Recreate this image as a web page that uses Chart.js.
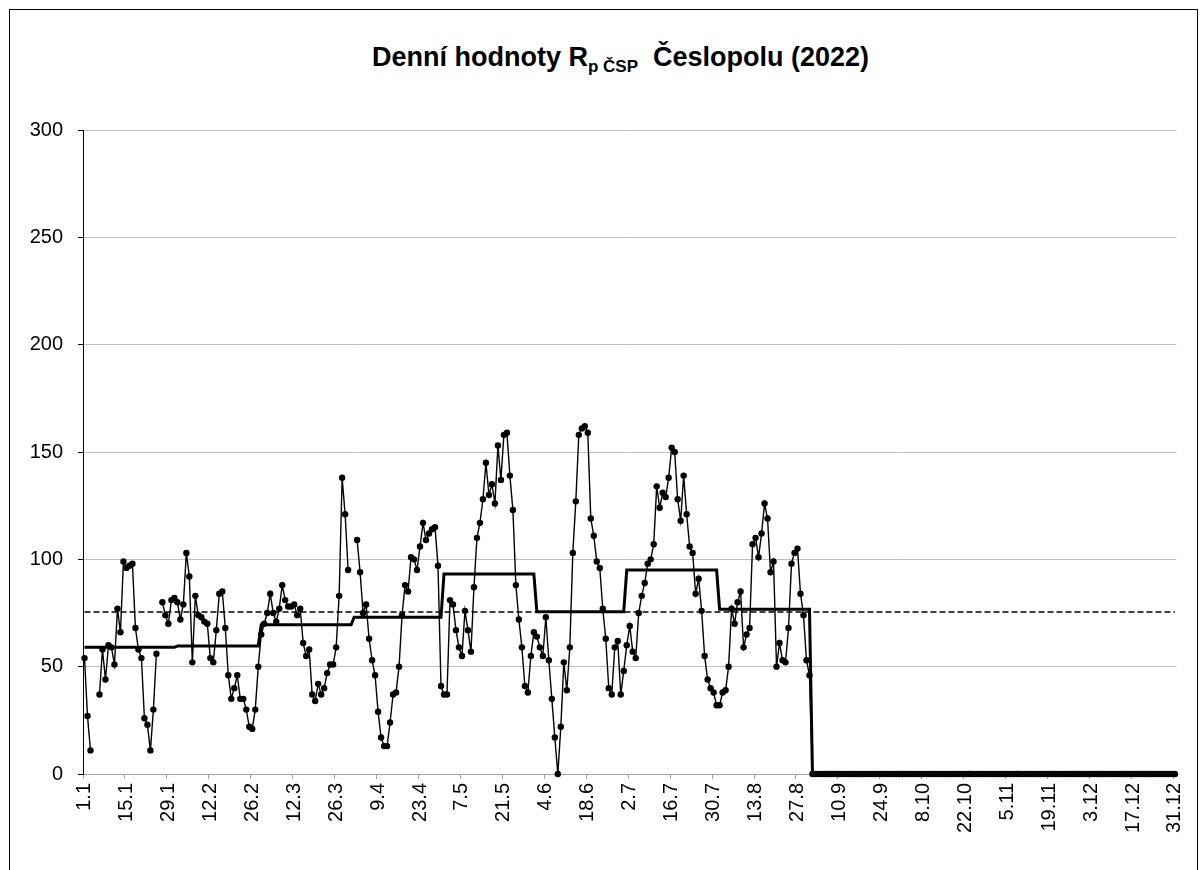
<!DOCTYPE html>
<html>
<head>
<meta charset="utf-8">
<script src="https://cdn.jsdelivr.net/npm/chart.js@4/dist/chart.umd.min.js"></script>
<style>
html,body{margin:0;padding:0;background:#fff;}
#wrap{position:relative;width:1203px;height:870px;overflow:hidden;font-family:"Liberation Sans",Arial,sans-serif;}
#frame{position:absolute;left:9px;top:9px;width:1189px;height:900px;border:1px solid #000;box-sizing:border-box;}
#title{position:absolute;left:0;top:42px;width:1241px;text-align:center;font-weight:bold;font-size:27px;line-height:30px;color:#000;white-space:pre;}
#title sub{font-size:17px;vertical-align:-6px;line-height:0;}
canvas{position:absolute;left:0;top:0;}
</style>
</head>
<body>
<div id="wrap">
  <div id="frame"></div>
  <div id="title">Denní hodnoty R<sub>p ČSP</sub>  Česlopolu (2022)</div>
  <canvas id="c" width="1203" height="870"></canvas>
</div>
<script>
// ---- data ----
const monthLengths = [31,28,31,30,31,30,31,31,30,31,30,31];

const tickLabels = ['1.1','15.1','29.1','12.2','26.2','12.3','26.3','9.4','23.4','7.5','21.5','4.6','18.6',
  '2.7','16.7','30.7','13.8','27.8','10.9','24.9','8.10','22.10','5.11','19.11','3.12','17.12','31.12'];

const jan = [54,27,11,null,null,37,58,44,60,59,51,77,66,99,96,97,98,68,58,54,26,23,11,30,56,null,80,74,70,81,82];
const feb = [80,72,79,103,92,52,83,74,73,71,70,54,52,67,84,85,68,46,35,40,46,35,35,30,22,21,30,50];
const mar = [65,70,75,84,75,71,77,88,81,78,78,79,74,77,61,55,58,37,34,42,37,40,47,51,51,59,83,138,121,95,null];
const apr = [null,109,94,75,79,63,53,46,29,17,13,13,24,37,38,50,74,88,85,101,100,95,106,117,109,112,114,115,97,41];
const may = [37,37,81,79,67,59,55,76,67,57,87,110,117,128,145,130,135,126,153,137,158,159,139,123,88,72,59,41,38,55,66];
const jun = [64,59,55,73,53,35,17,0,22,52,39,59,103,127,158,161,162,159,119,111,99,96,77,63,40,37,59,62,37,48];
const jul = [60,69,57,54,75,83,89,98,100,107,134,124,131,129,138,152,150,128,118,139,121,106,103,84,91,76,55,44,40,38,32];
const aug = [32,38,39,50,77,70,80,85,59,65,68,107,110,101,112,126,119,94,99,50,61,53,52,68,98,103,105,84,74,53,46];
const sep = [0,0,0,0,0,0,0,0,0,0,0,0,0,0,0,0,0,0,0,0,0,0,0,0,0,0,0,0,0,0];
const oct = [0,0,0,0,0,0,0,0,0,0,0,0,0,0,0,0,0,0,0,0,0,0,0,0,0,0,0,0,0,0,0];
const nov = [0,0,0,0,0,0,0,0,0,0,0,0,0,0,0,0,0,0,0,0,0,0,0,0,0,0,0,0,0,0];
const dec = [0,0,0,0,0,0,0,0,0,0,0,0,0,0,0,0,0,0,0,0,0,0,0,0,0,0,0,0,0,0,0];

const monthlyMean = [59.0,59.6,69.5,73.0,93.2,75.6,95.0,76.8,0,0,0,0];
const annualMean = 75.5;

// ---- build library structures ----
const categories = [];
monthLengths.forEach((n, m) => { for (let d = 1; d <= n; d++) categories.push(d + '.' + (m + 1)); });
const daily = [].concat(jan, feb, mar, apr, may, jun, jul, aug, sep, oct, nov, dec);

const monthlyPts = [];
monthLengths.forEach((n, m) => {
  monthlyPts.push({x: '1.' + (m + 1), y: monthlyMean[m]});
  monthlyPts.push({x: n + '.' + (m + 1), y: monthlyMean[m]});
});
const annualPts = [{x: categories[0], y: annualMean}, {x: categories[categories.length - 1], y: annualMean}];

const FONT = '"Liberation Sans", Arial, sans-serif';

new Chart(document.getElementById('c'), {
  type: 'line',
  data: {
    labels: categories,
    datasets: [
      {
        label: 'denní hodnoty',
        data: daily,
        borderColor: '#000',
        borderWidth: 1.4,
        pointRadius: 3.2,
        pointBorderWidth: 0,
        pointBackgroundColor: '#000',
        spanGaps: false,
        tension: 0,
        clip: false,
        order: 0
      },
      {
        label: 'měsíční průměr',
        data: monthlyPts,
        borderColor: '#000',
        borderWidth: 3,
        pointRadius: 0,
        tension: 0,
        clip: false,
        order: 1
      },
      {
        label: 'roční průměr',
        data: annualPts,
        borderColor: '#000',
        borderWidth: 1.5,
        borderDash: [6, 3],
        pointRadius: 0,
        tension: 0,
        order: 2
      }
    ]
  },
  options: {
    responsive: false,
    animation: false,
    devicePixelRatio: 1,
    layout: { padding: { top: 130, left: 0, right: 25, bottom: 0 } },
    plugins: { legend: { display: false }, tooltip: { enabled: false }, title: { display: false } },
    scales: {
      x: {
        type: 'category',
        offset: true,
        afterFit: s => { s.height = 96; },
        grid: {
          offset: true,
          drawOnChartArea: false,
          drawTicks: true,
          tickLength: 5,
          color: ctx => (ctx.tick && ctx.tick.label) ? '#a0a0a0' : 'rgba(0,0,0,0)'
        },
        border: { display: true, color: '#a0a0a0', width: 1 },
        ticks: {
          autoSkip: false,
          minRotation: 90,
          maxRotation: 90,
          padding: 4,
          color: '#000',
          font: { family: FONT, size: 20 },
          callback: function (v) {
            const l = this.getLabelForValue(v);
            return tickLabels.includes(l) ? l : '';
          }
        }
      },
      y: {
        min: 0,
        max: 300,
        afterFit: s => { s.width = 83; },
        grid: { color: '#c0c0c0', lineWidth: 1, tickColor: '#000', tickLength: 5, drawTicks: true },
        border: { display: true, color: '#000', width: 1 },
        ticks: { stepSize: 50, padding: 15, color: '#000', font: { family: FONT, size: 20 } }
      }
    }
  }
});
</script>
</body>
</html>
